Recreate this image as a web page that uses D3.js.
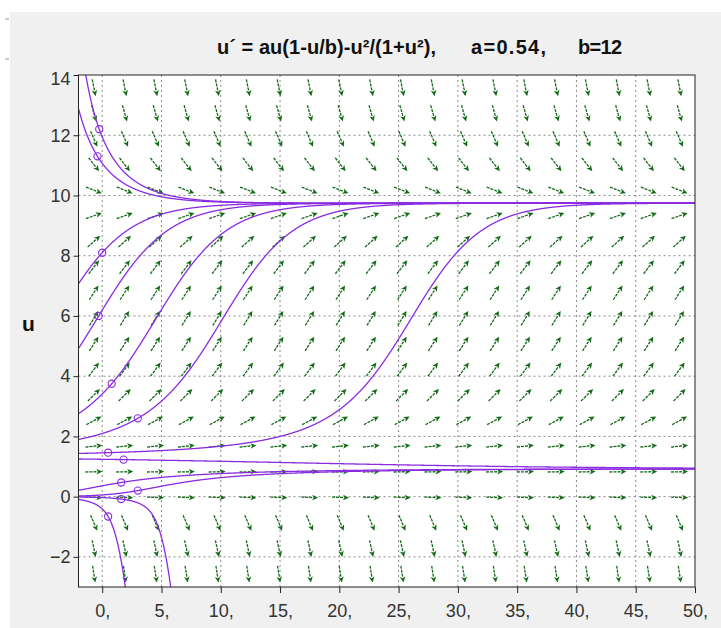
<!DOCTYPE html>
<html>
<head>
<meta charset="utf-8">
<script src="https://cdn.jsdelivr.net/npm/d3@7"></script>
<style>
  body { margin: 0; background: #fff; }
  svg text { font-family: "Liberation Sans", Arial, sans-serif; }
</style>
</head>
<body>
<svg id="chart" width="721" height="628"></svg>
<script>
// model parameters (from the title)
var a = 0.54, b = 12;
// initial points of the solution curves (the small circles)
var initT = [-0.25, -0.4, 0.0, -0.3, 0.8, 3.0, 0.5, 1.8, 1.6, 3.0, 1.6, 0.5];
var initU = [12.2, 11.3, 8.1, 6.0, 3.75, 2.6, 1.46, 1.23, 0.47, 0.2, -0.08, -0.66];
// axes
var tRange = [-2, 50], uRange = [-3, 14];
var xTicks = [0, 5, 10, 15, 20, 25, 30, 35, 40, 45, 50];
var yTicks = [-2, 0, 2, 4, 6, 8, 10, 12, 14];
var nCols = 20, nRows = 20;

var f = function(u) { return a * u * (1 - u / b) - u * u / (1 + u * u); };

var svg = d3.select("#chart");
var x = d3.scaleLinear().domain(tRange).range([78.5, 695]);
var y = d3.scaleLinear().domain(uRange).range([587, 75]);

// gray window background
svg.append("rect").attr("x", 10).attr("y", 12).attr("width", 711).attr("height", 616).attr("fill", "#f0f0f0");
svg.append("line").attr("x1", 5).attr("x2", 9).attr("y1", 19).attr("y2", 19).attr("stroke", "#999");
svg.append("line").attr("x1", 5).attr("x2", 9).attr("y1", 59).attr("y2", 59).attr("stroke", "#999");

svg.append("rect").attr("x", x(tRange[0])).attr("y", y(uRange[1]))
  .attr("width", x(tRange[1]) - x(tRange[0])).attr("height", y(uRange[0]) - y(uRange[1]))
  .attr("fill", "#fff");

svg.append("defs").append("clipPath").attr("id", "clip").append("rect")
  .attr("x", x(tRange[0])).attr("y", y(uRange[1]))
  .attr("width", x(tRange[1]) - x(tRange[0])).attr("height", y(uRange[0]) - y(uRange[1]));

// dotted grid
var grid = svg.append("g").attr("stroke", "#8a8a8a").attr("stroke-dasharray", "2,3");
grid.selectAll(".gx").data(xTicks.filter(function(d) { return d < 50; })).enter().append("line")
  .attr("x1", function(d) { return x(d); }).attr("x2", function(d) { return x(d); })
  .attr("y1", y(uRange[0])).attr("y2", y(uRange[1]));
grid.selectAll(".gy").data(yTicks.filter(function(d) { return d < 14; })).enter().append("line")
  .attr("y1", function(d) { return y(d); }).attr("y2", function(d) { return y(d); })
  .attr("x1", x(tRange[0])).attr("x2", x(tRange[1]));

// direction field
var cells = [];
for (var i = 0; i < nCols; i++) {
  for (var j = 0; j < nRows; j++) {
    var t = tRange[0] + (i + 0.5) * (tRange[1] - tRange[0]) / nCols;
    var u = uRange[0] + (j + 0.5) * (uRange[1] - uRange[0]) / nRows;
    cells.push({t: t, u: u});
  }
}
var L = 17, green = "#136b17";
var arrows = svg.append("g").attr("class", "field");
cells.forEach(function(c) {
  var cx = x(c.t), cy = y(c.u);
  var dx = x(c.t + 1) - x(c.t), dy = y(c.u + f(c.u)) - y(c.u);
  var n = Math.sqrt(dx * dx + dy * dy);
  dx /= n; dy /= n;
  var x0 = cx - dx * L / 2, y0 = cy - dy * L / 2, x1 = cx + dx * L / 2, y1 = cy + dy * L / 2;
  var hl = 6, hw = 2.8;
  var bx = x1 - dx * hl, by = y1 - dy * hl;
  arrows.append("line").attr("x1", x0).attr("y1", y0).attr("x2", bx + dx).attr("y2", by + dy)
    .attr("stroke", green).attr("stroke-width", 1.3).attr("stroke-dasharray", "3,1");
  arrows.append("path")
    .attr("d", "M" + x1 + "," + y1 + "L" + (bx - dy * hw) + "," + (by + dx * hw) + "L" + (bx + dx * 1.5) + "," + (by + dy * 1.5) + "L" + (bx + dy * hw) + "," + (by - dx * hw) + "Z")
    .attr("fill", green);
});

// solution curves, RK4 both ways from each initial point
function integrate(t0, u0, h) {
  var pts = [], t = t0, u = u0;
  while ((h > 0 ? t <= tRange[1] : t >= tRange[0]) && Math.abs(u) < 30) {
    pts.push([t, u]);
    var k1 = f(u), k2 = f(u + h * k1 / 2), k3 = f(u + h * k2 / 2), k4 = f(u + h * k3);
    u += h * (k1 + 2 * k2 + 2 * k3 + k4) / 6;
    t += h;
  }
  return pts;
}
var curves = initT.map(function(t0, k) {
  var back = integrate(t0, initU[k], -0.01).reverse();
  var fwd = integrate(t0, initU[k], 0.01);
  return back.concat(fwd.slice(1));
});
var line = d3.line().x(function(d) { return x(d[0]); }).y(function(d) { return y(d[1]); });
var purple = "#8a2be2";
svg.append("g").attr("clip-path", "url(#clip)").selectAll("path").data(curves).enter().append("path")
  .attr("d", line).attr("fill", "none").attr("stroke", purple).attr("stroke-width", 1.3);
svg.append("g").selectAll("circle").data(initT).enter().append("circle")
  .attr("cx", function(d) { return x(d); }).attr("cy", function(d, k) { return y(initU[k]); })
  .attr("r", 3.6).attr("fill", "none").attr("stroke", purple).attr("stroke-width", 1.1);

// frame and axes
svg.append("rect").attr("x", x(tRange[0])).attr("y", y(uRange[1]))
  .attr("width", x(tRange[1]) - x(tRange[0])).attr("height", y(uRange[0]) - y(uRange[1]))
  .attr("fill", "none").attr("stroke", "#222");

var xAxis = svg.append("g").attr("transform", "translate(0," + y(uRange[0]) + ")")
  .call(d3.axisBottom(x).tickValues(xTicks).tickFormat(function(d) { return d + ","; }).tickSize(6).tickPadding(11));
var yAxis = svg.append("g").attr("transform", "translate(" + x(tRange[0]) + ",0)")
  .call(d3.axisLeft(y).tickValues(yTicks).tickSize(5).tickPadding(3));
[xAxis, yAxis].forEach(function(g) {
  g.select(".domain").remove();
  g.selectAll("line").attr("stroke", "#222");
  g.selectAll("text").attr("font-size", 18).attr("fill", "#333").attr("font-family", "Liberation Sans, Arial, sans-serif");
});
yAxis.selectAll("text").filter(function(d) { return d === 14; }).attr("dy", "0.55em");

svg.append("text").attr("x", 28.5).attr("y", 331).attr("text-anchor", "middle")
  .attr("font-size", 21).attr("font-weight", "bold").attr("fill", "#111").text("u");

// title
var title = svg.append("g").attr("font-size", 20).attr("font-weight", "bold").attr("fill", "#111");
title.append("text").attr("x", 217).attr("y", 54).attr("textLength", 219).text("u\u00b4 = au(1-u/b)-u\u00b2/(1+u\u00b2),");
title.append("text").attr("x", 471).attr("y", 54).attr("textLength", 75).text("a=0.54,");
title.append("text").attr("x", 578).attr("y", 54).attr("textLength", 44).text("b=12");
</script>
</body>
</html>
